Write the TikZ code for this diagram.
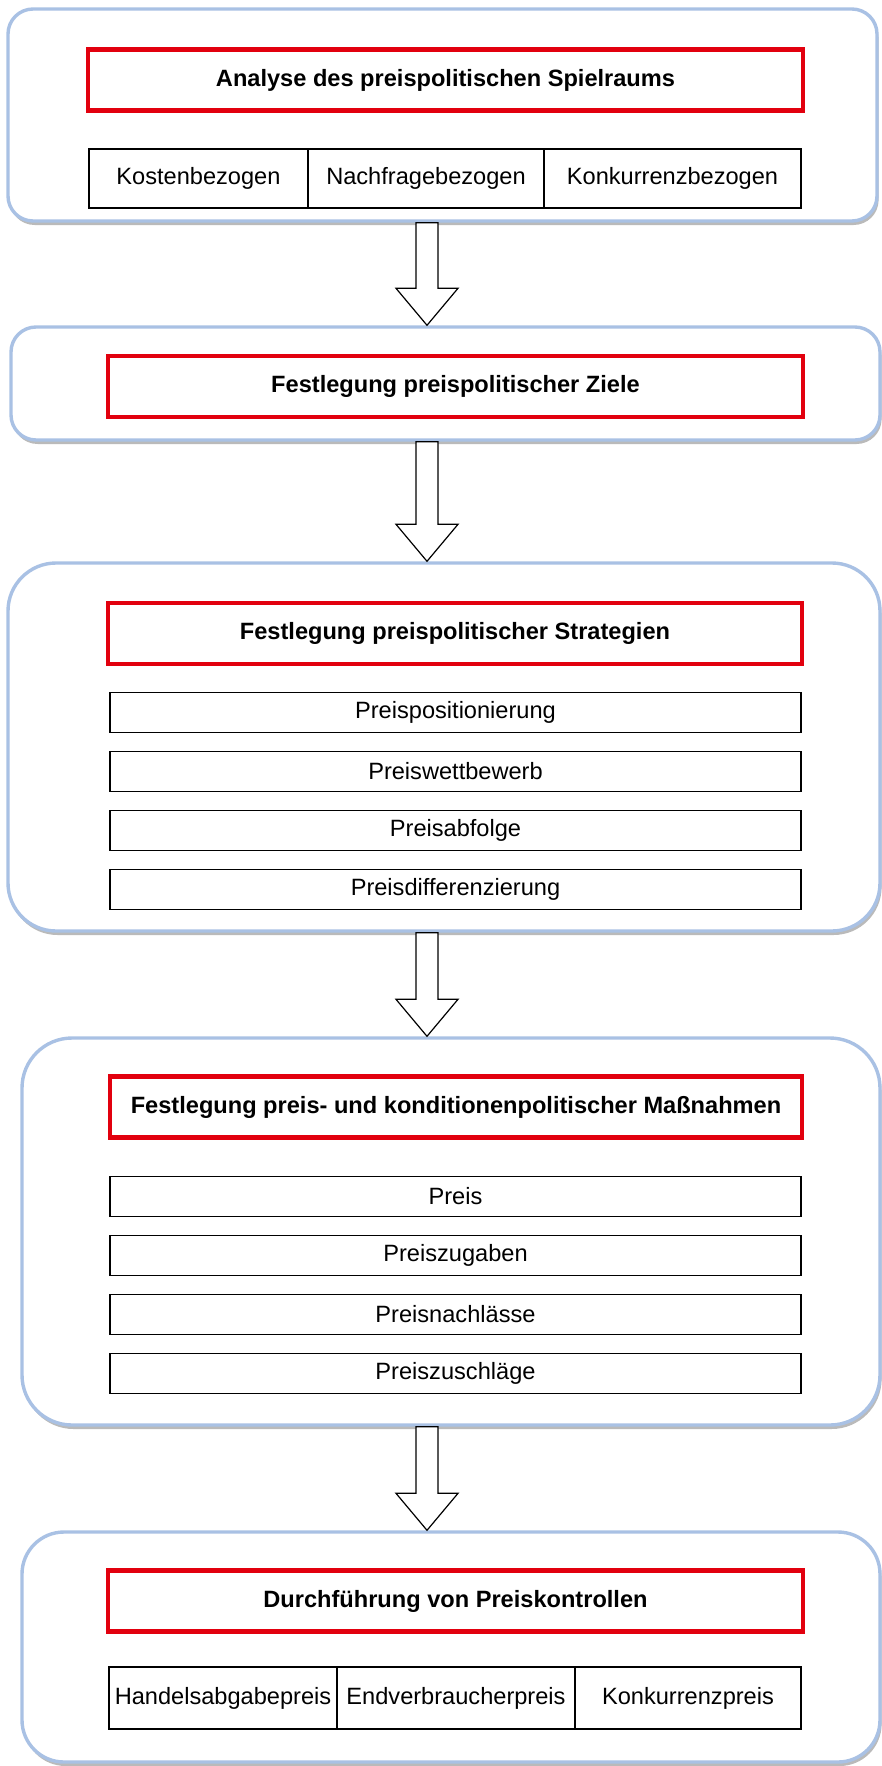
\documentclass[tikz,border=0pt]{standalone}
\usepackage{fontspec}
\setmainfont{Liberation Sans}
\usepackage{tikz}
\usetikzlibrary{calc, shadows}

\definecolor{frameblue}{HTML}{A9C1E4}
\definecolor{alarmred}{HTML}{E2000E}

\begin{document}
\begin{tikzpicture}[x=0.5pt, y=-0.5pt,
	phase/.style={draw=frameblue, line width=1.7pt, fill=white, rounded corners=#1, inner sep=0pt,
		drop shadow={shadow xshift=0.8pt, shadow yshift=-2pt, fill=black!45, opacity=0.6}},
	titlebox/.style={draw=alarmred, line width=2.3pt, fill=white, inner sep=0pt, minimum height=30.5pt,
		font=\bfseries\fontsize{11.8}{14}\selectfont},
	itembox/.style={draw=black, line width=0.75pt, fill=white, inner sep=0pt, minimum width=345.5pt, minimum height=20pt,
		font=\fontsize{11.8}{14}\selectfont},
	cellbox/.style={draw=black, line width=0.75pt, fill=white, inner sep=0pt, minimum width=#1,
		font=\fontsize{11.8}{14}\selectfont},
	hollow/.style={draw=black, line width=0.6pt, fill=white, to path={let \p1=(\tikztostart), \p2=(\tikztotarget) in
		(\x1-5.5pt,\y1) -- (\x1-5.5pt,\y2+18.5pt) -- (\x1-15.5pt,\y2+18.5pt) -- (\x2,\y2)
		-- (\x1+15.5pt,\y2+18.5pt) -- (\x1+5.5pt,\y2+18.5pt) -- (\x1+5.5pt,\y1) -- cycle}}]
	\useasboundingbox (0,0) rectangle (882,1766);
	
	\node[phase=12.5pt, minimum width=434.5pt, minimum height=106pt] (b1) at (442.5,115) {};
	\node[phase=12.5pt, minimum width=434.5pt, minimum height=56.5pt] (b2) at (445.5,383.5) {};
	\node[phase=24pt, minimum width=436pt, minimum height=184pt] (b3) at (444,747) {};
	\node[phase=25pt, minimum width=429pt, minimum height=193.5pt] (b4) at (451,1231.5) {};
	\node[phase=21pt, minimum width=429pt, minimum height=115pt] (b5) at (451,1647) {};
	
	\node[titlebox, minimum width=357.5pt] (t1) at (445.5,80) {Analyse des preispolitischen Spielraums};
	\node[titlebox, minimum width=347.5pt] (t2) at (455.5,386.5) {Festlegung preispolitischer Ziele};
	\node[titlebox, minimum width=347pt] (t3) at (455,633.5) {Festlegung preispolitischer Strategien};
	\node[titlebox, minimum width=346pt] (t4) at (456,1107) {Festlegung preis- und konditionenpolitischer Maßnahmen};
	\node[titlebox, minimum width=347.5pt] (t5) at (455.5,1601) {Durchführung von Preiskontrollen};
	
	\node[cellbox=109.5pt, minimum height=29.5pt] (k1) at (198.5,178.5) {Kostenbezogen};
	\node[cellbox=118pt, minimum height=29.5pt] (k2) at (426,178.5) {Nachfragebezogen};
	\node[cellbox=128.5pt, minimum height=29.5pt] (k3) at (672.5,178.5) {Konkurrenzbezogen};
	
	\foreach \t [count=\i] in {Preispositionierung, Preiswettbewerb, Preisabfolge, Preisdifferenzierung}
		\node[itembox] (s\i) at (455.5,653.5+59*\i) {\t};
	\foreach \t [count=\i] in {Preis, Preiszugaben, Preisnachlässe, Preiszuschläge}
		\node[itembox] (m\i) at (455.5,1137.5+59*\i) {\t};
	
	\node[cellbox=114pt, minimum height=31pt] (p1) at (223,1698) {Handelsabgabepreis};
	\node[cellbox=119pt, minimum height=31pt] (p2) at (456,1698) {Endverbraucherpreis};
	\node[cellbox=113pt, minimum height=31pt] (p3) at (688,1698) {Konkurrenzpreis};
	
	\coordinate (ax) at (427,0);
	\draw[hollow] (b1.south -| ax) to (b2.north -| ax);
	\draw[hollow] (b2.south -| ax) to (b3.north -| ax);
	\draw[hollow] (b3.south -| ax) to (b4.north -| ax);
	\draw[hollow] (b4.south -| ax) to (b5.north -| ax);
\end{tikzpicture}
\end{document}
